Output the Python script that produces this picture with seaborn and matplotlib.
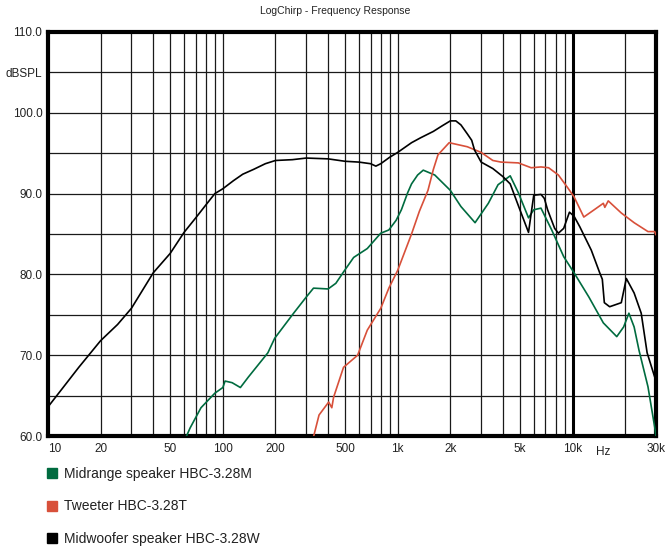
import numpy as np
import pandas as pd
import matplotlib
matplotlib.use('Agg')
import matplotlib.pyplot as plt
from matplotlib.lines import Line2D
import seaborn as sns

# ---- data ----
woofer_f = [10, 12, 15, 20, 25, 30, 40, 50, 60, 70, 80, 90, 100, 115, 130, 150, 175, 200,
            250, 300, 400, 500, 600, 700, 750, 800, 900, 1000, 1200, 1350, 1600, 1800,
            2000, 2150, 2300, 2500, 2650, 2750, 3000, 3500, 4000, 4400, 5000, 5600, 6000,
            6600, 6900, 7200, 7900, 8300, 8900, 9600, 10200, 11000, 12800, 14300, 14800,
            15200, 16300, 19000, 20300, 22500, 24700, 26700, 29500, 30000]
woofer_db = [63.6, 65.8, 68.5, 71.8, 73.8, 75.8, 80.2, 82.6, 85.2, 87.0, 88.6, 90.0, 90.6,
             91.6, 92.4, 93.0, 93.7, 94.1, 94.2, 94.4, 94.3, 94.0, 93.9, 93.7, 93.4, 93.7,
             94.5, 95.1, 96.3, 96.9, 97.7, 98.4, 99.0, 99.0, 98.5, 97.4, 96.6, 95.4, 93.9,
             93.1, 92.1, 91.2, 88.0, 85.2, 89.8, 89.9, 89.4, 88.0, 85.7, 85.1, 85.7, 87.7,
             87.2, 85.9, 83.0, 80.2, 79.4, 76.5, 76.0, 76.5, 79.5, 77.7, 75.2, 70.3, 67.3,
             67.0]

mid_f = [62, 65, 75, 90, 100, 103, 113, 126, 140, 181, 198, 254, 300, 330, 400, 443, 490,
         560, 670, 800, 890, 980, 1050, 1140, 1200, 1300, 1400, 1630, 2000, 2300, 2770,
         3300, 3750, 4400, 4900, 5600, 6000, 6600, 7600, 8900, 10200, 12400, 15000, 17900,
         19600, 21000, 22500, 24000, 27000, 29500, 30000]
mid_db = [60.0, 61.0, 63.5, 65.3, 66.0, 66.8, 66.6, 66.0, 67.3, 70.3, 72.1, 75.2, 77.2, 78.3,
          78.2, 78.9, 80.3, 82.1, 83.2, 85.1, 85.5, 86.7, 88.0, 90.1, 91.2, 92.3, 92.9, 92.3,
          90.4, 88.4, 86.4, 88.8, 91.1, 92.2, 90.1, 87.0, 88.0, 88.2, 85.5, 82.2, 80.2, 77.2,
          74.0, 72.3, 73.5, 75.2, 73.5, 70.6, 66.1, 61.1, 60.0]

tw_f = [331, 355, 403, 420, 430, 490, 590, 670, 800, 890, 1000, 1200, 1330, 1490, 1600,
        1700, 1970, 2500, 3000, 3500, 3900, 4900, 5800, 6600, 7300, 8300, 9400, 10200,
        11600, 13300, 15000, 15300, 16000, 19000, 22500, 27000, 29500, 30000]
tw_db = [60.0, 62.6, 64.2, 63.5, 64.8, 68.5, 70.0, 73.1, 75.8, 78.3, 80.5, 85.0, 87.8, 90.4,
         93.0, 94.8, 96.3, 95.8, 95.1, 94.1, 93.9, 93.8, 93.2, 93.3, 93.2, 92.3, 90.7, 89.6,
         87.1, 88.0, 88.8, 88.3, 89.1, 87.6, 86.4, 85.3, 85.3, 84.9]

labels = ['Midrange speaker HBC-3.28M', 'Tweeter HBC-3.28T', 'Midwoofer speaker HBC-3.28W']
colors = ['#006b3f', '#d8503a', '#000000']

x_ticks = [10, 20, 50, 100, 200, 500, 1000, 2000, 5000, 10000, 30000]
x_labels = ['10', '20', '50', '100', '200', '500', '1k', '2k', '5k', '10k', '30k']
y_ticks = [60, 65, 70, 75, 80, 85, 90, 95, 100, 105, 110]
y_labels = ['60.0', '', '70.0', '', '80.0', '', '90.0', '', '100.0', 'dBSPL', '110.0']

df = pd.concat([
    pd.DataFrame({'freq': mid_f, 'db': mid_db, 'driver': labels[0]}),
    pd.DataFrame({'freq': tw_f, 'db': tw_db, 'driver': labels[1]}),
    pd.DataFrame({'freq': woofer_f, 'db': woofer_db, 'driver': labels[2]}),
])

sns.set_style('white')
plt.rcParams['font.family'] = ['Liberation Sans', 'DejaVu Sans']

fig = plt.figure(figsize=(6.71, 5.47), dpi=100)
ax = fig.add_axes([0.0715, 0.2029, 0.9061, 0.7386])

sns.lineplot(data=df, x='freq', y='db', hue='driver', hue_order=labels,
             palette=dict(zip(labels, colors)), estimator=None, sort=False,
             linewidth=1.2, legend=False, ax=ax, zorder=3)

ax.set_xscale('log')
ax.set_xlim(10, 30000)
ax.set_ylim(60, 110)

# grid: every 1..9 per decade, every 5 dB
minor = [m * d for d in (10, 100, 1000, 10000) for m in range(1, 10)
         if m * d not in x_ticks and m * d < 30000]
ax.set_xticks(x_ticks)
ax.set_xticklabels(x_labels)
ax.set_xticks(minor, minor=True)
ax.set_xticklabels([], minor=True)
ax.set_yticks(y_ticks)
ax.set_yticklabels(y_labels)
ax.grid(True, which='both', color='#1a1a1a', linewidth=0.9, zorder=1)
ax.axvline(10000, color='black', linewidth=2.2, zorder=2)

ax.tick_params(axis='both', which='both', length=0, labelsize=8.5, colors='#222222')
ax.tick_params(axis='x', pad=5)
ax.tick_params(axis='y', pad=4)
ax.get_xticklabels()[0].set_horizontalalignment('left')
ax.set_xlabel('')
ax.set_ylabel('')
for s in ax.spines.values():
    s.set_visible(True)
    s.set_linewidth(3)
    s.set_color('black')

ax.annotate('Hz', xy=(15000, 0), xycoords=('data', 'axes fraction'),
            xytext=(0, -7), textcoords='offset points', ha='center', va='top',
            fontsize=8.5, color='#222222')

fig.text(0.5, 1 - 11 / 547, 'LogChirp - Frequency Response', ha='center', va='center',
         fontsize=7.5, color='#222222')

handles = [Line2D([], [], marker='s', linestyle='', color=c, markersize=7) for c in colors]
ax.legend(handles, labels, loc='upper left', bbox_to_anchor=(0.0678, 0.1463),
          bbox_transform=fig.transFigure, frameon=False, fontsize=10,
          handlelength=1.0, handletextpad=0.3, labelspacing=1.33,
          borderpad=0, borderaxespad=0, labelcolor='#222222')

plt.savefig('out.png', dpi=100)
